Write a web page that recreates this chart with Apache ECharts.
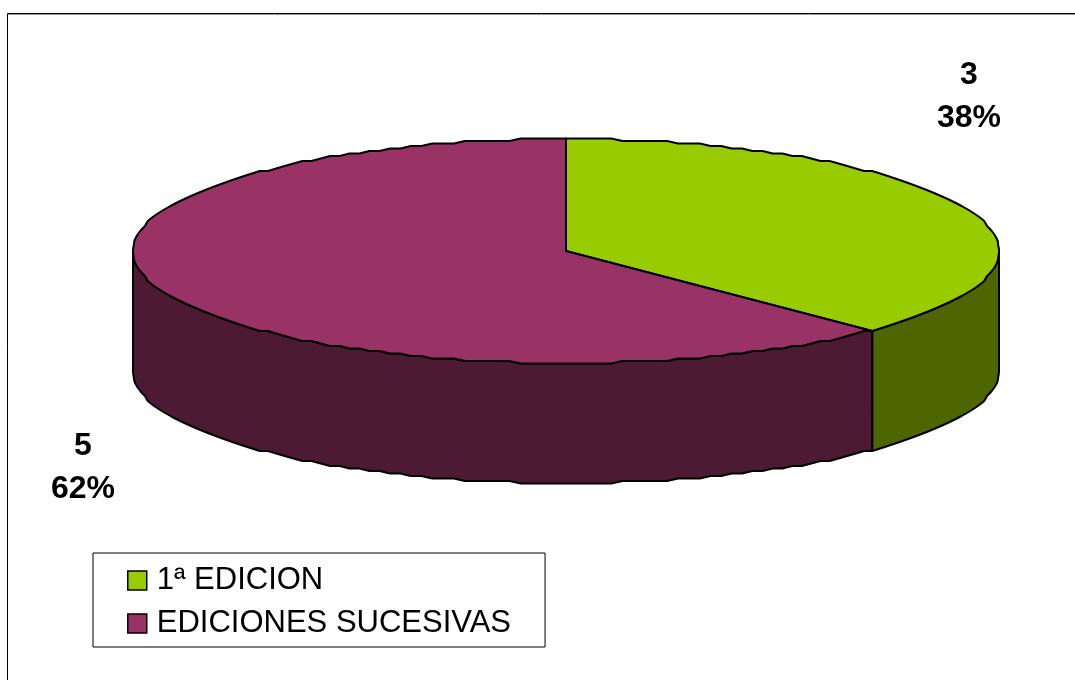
<!DOCTYPE html>
<html>
<head>
<meta charset="utf-8">
<script src="https://cdn.jsdelivr.net/npm/echarts@6/dist/echarts.min.js"></script>
<style>html,body{margin:0;padding:0;background:#fff}#c{width:1075px;height:680px}</style>
</head>
<body>
<div id="c"></div>
<script>
const categories = ['1ª EDICION', 'EDICIONES SUCESIVAS'];
const values = [3, 5];
const percentLabels = ['38%', '62%'];
const topColors = ['#99CC00', '#993366'];
const sideColors = ['#4D6600', '#4D1A33'];
const labelPositions = [[969, 97], [83, 468]];

const CX = 566, CY = 251, RX = 433, RY = 112, DEPTH = 120;
const total = values.reduce((a, b) => a + b, 0);

function rim(deg, dy) {
  const r = deg * Math.PI / 180;
  const snap = v => Math.round(v / 2.5) * 2.5;
  return [CX + RX * Math.sin(r), CY + snap(-RY * Math.cos(r)) + dy];
}
function arc(a0, a1, dy) {
  const pts = [];
  const n = Math.max(2, Math.ceil((a1 - a0) / 1.5));
  for (let i = 0; i <= n; i++) pts.push(rim(a0 + (a1 - a0) * i / n, dy));
  return pts;
}
function sliceRenderer(idx) {
  return function () {
    const start = values.slice(0, idx).reduce((a, b) => a + b, 0) / total * 360;
    const end = start + values[idx] / total * 360;
    const children = [];
    const s0 = Math.max(start, 90), s1 = Math.min(end, 270);
    if (s1 > s0) {
      children.push({
        type: 'polygon', z2: 1,
        shape: { points: arc(s0, s1, 0).concat(arc(s0, s1, DEPTH).reverse()) },
        style: { fill: sideColors[idx], stroke: '#000', lineWidth: 2, lineJoin: 'round' }
      });
    }
    children.push({
      type: 'polygon', z2: 2,
      shape: { points: [[CX, CY]].concat(arc(start, end, 0)) },
      style: { fill: topColors[idx], stroke: '#000', lineWidth: 2, lineJoin: 'round' }
    });
    children.push({
      type: 'text', z2: 3,
      x: labelPositions[idx][0], y: labelPositions[idx][1],
      style: {
        text: values[idx] + '\n' + percentLabels[idx],
        fill: '#000', align: 'center', verticalAlign: 'middle',
        font: 'bold 32px "Liberation Sans", Arial, sans-serif', lineHeight: 43
      }
    });
    return { type: 'group', children };
  };
}

const chart = echarts.init(document.getElementById('c'), null, { renderer: 'canvas' });
chart.setOption({
  animation: false,
  backgroundColor: '#fff',
  legend: {
    orient: 'vertical', left: 93, top: 553, selectedMode: false,
    data: categories.map((name, i) => ({ name, icon: 'rect', itemStyle: { color: topColors[i], borderColor: '#000', borderWidth: 1.5 } })),
    itemWidth: 19, itemHeight: 19, itemGap: 12,
    padding: [12, 34, 8, 34],
    borderColor: '#000', borderWidth: 1,
    textStyle: { fontFamily: '"Liberation Sans", Arial, sans-serif', fontSize: 31, color: '#000', padding: [0, 0, 0, 5] }
  },
  graphic: [
    { type: 'line', silent: true, shape: { x1: 7.5, y1: 13.5, x2: 1075, y2: 13.5 }, style: { stroke: '#000', lineWidth: 1 } },
    { type: 'line', silent: true, shape: { x1: 7.5, y1: 13.5, x2: 7.5, y2: 680 }, style: { stroke: '#000', lineWidth: 1 } },
    { type: 'line', silent: true, shape: { x1: 8, y1: 14.5, x2: 1075, y2: 14.5 }, style: { stroke: '#999', lineWidth: 1 } }
  ],
  series: categories.map((name, i) => ({
    type: 'custom', name, coordinateSystem: 'none', silent: true,
    itemStyle: { color: topColors[i] },
    renderItem: sliceRenderer(i),
    data: [values[i]]
  }))
});
</script>
</body>
</html>
